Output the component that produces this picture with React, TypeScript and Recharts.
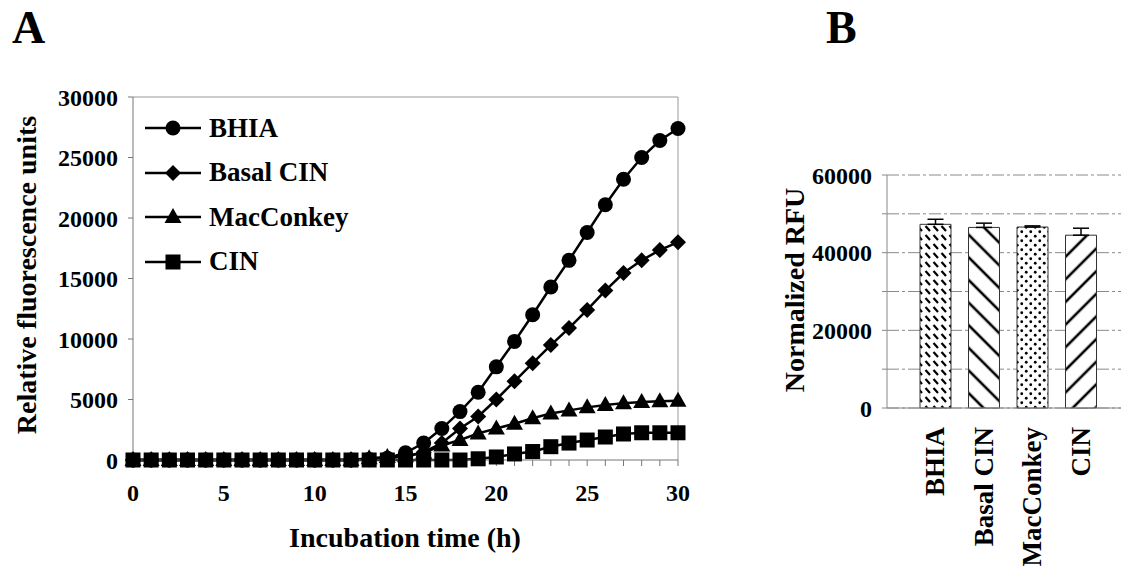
import React from "react";
import {
  Bar,
  BarChart,
  CartesianGrid,
  Cell,
  ErrorBar,
  Legend,
  Line,
  LineChart,
  ReferenceLine,
  XAxis,
  YAxis,
} from "recharts";

// Panel A: incubation time course
const hours = [0, 1, 2, 3, 4, 5, 6, 7, 8, 9, 10, 11, 12, 13, 14, 15, 16, 17, 18, 19, 20, 21, 22, 23, 24, 25, 26, 27, 28, 29, 30];
const bhia = [0, 0, 0, 0, 0, 0, 0, 0, 0, 0, 0, 0, 0, 50, 150, 600, 1400, 2600, 4000, 5600, 7700, 9800, 12000, 14300, 16500, 18800, 21100, 23200, 25000, 26400, 27400];
const basalCin = [0, 0, 0, 0, 0, 0, 0, 0, 0, 0, 0, 0, 0, 50, 150, 300, 650, 1400, 2600, 3600, 5000, 6500, 8000, 9500, 10900, 12400, 14000, 15450, 16500, 17350, 18000];
const macConkey = [0, 0, 0, 0, 0, 0, 0, 0, 0, 0, 0, 0, 0, 150, 250, 300, 600, 1200, 1650, 2200, 2600, 3000, 3450, 3850, 4100, 4350, 4550, 4700, 4800, 4850, 4900];
const cin = [0, 0, 0, 0, 0, 0, 0, 0, 0, 0, 0, 0, 0, 0, 0, 0, 0, 0, 0, 100, 250, 500, 700, 1100, 1400, 1650, 1900, 2150, 2250, 2250, 2250];
const yTicksA = [0, 5000, 10000, 15000, 20000, 25000, 30000];

// Panel B: normalized RFU per medium
const media = ["BHIA", "Basal CIN", "MacConkey", "CIN"];
const rfu = [47300, 46500, 46600, 44500];
const rfuErr = [1300, 1100, 300, 1800];
const yTicksB = [0, 10000, 20000, 30000, 40000, 50000, 60000];

const FONT = '"Liberation Serif", "Times New Roman", serif';

const series = [
  { key: "bhia", name: "BHIA", shape: "circle" },
  { key: "basal", name: "Basal CIN", shape: "diamond" },
  { key: "mac", name: "MacConkey", shape: "triangle" },
  { key: "cin", name: "CIN", shape: "square" },
];

const lineData = hours.map((h, i) => ({
  h,
  bhia: bhia[i],
  basal: basalCin[i],
  mac: macConkey[i],
  cin: cin[i],
}));

const barData = media.map((m, i) => ({ name: m, rfu: rfu[i], err: [0, rfuErr[i]] }));
const patterns = ["url(#pBhia)", "url(#pBasal)", "url(#pDots)", "url(#pCin)"];

function Marker({ cx, cy, shape }: { cx: number; cy: number; shape: string }) {
  if (cx == null || cy == null) return null;
  if (shape === "circle") return <circle cx={cx} cy={cy} r={7.5} fill="#000" />;
  if (shape === "diamond")
    return <polygon points={`${cx},${cy - 8} ${cx + 8},${cy} ${cx},${cy + 8} ${cx - 8},${cy}`} fill="#000" />;
  if (shape === "triangle")
    return <polygon points={`${cx},${cy - 9} ${cx + 8.5},${cy + 6} ${cx - 8.5},${cy + 6}`} fill="#000" />;
  return <rect x={cx - 7.5} y={cy - 7.5} width={15} height={15} fill="#000" />;
}

const tickStyle = { fill: "#000", fontSize: 24, fontWeight: 700, fontFamily: FONT };

function LegendBox() {
  return (
    <div style={{ fontFamily: FONT, fontWeight: 700, fontSize: 27, color: "#000" }}>
      {series.map((s) => (
        <div key={s.key} style={{ height: 44.5, display: "flex", alignItems: "center" }}>
          <svg width={56} height={20} style={{ marginRight: 8 }}>
            <line x1={0} y1={10} x2={56} y2={10} stroke="#000" strokeWidth={2.5} />
            <Marker cx={28} cy={10} shape={s.shape} />
          </svg>
          <span>{s.name}</span>
        </div>
      ))}
    </div>
  );
}

function CategoryTick({ x, y, payload }: any) {
  return (
    <text
      x={x}
      y={y}
      transform={`rotate(-90 ${x} ${y})`}
      textAnchor="end"
      dominantBaseline="central"
      fill="#000"
      fontSize={27}
      fontWeight={700}
      fontFamily={FONT}
    >
      {payload.value}
    </text>
  );
}

const titleStyle: React.CSSProperties = {
  position: "absolute",
  fontFamily: FONT,
  fontWeight: 700,
  fontSize: 28,
  whiteSpace: "nowrap",
  color: "#000",
  lineHeight: 1,
};

export default function App() {
  return (
    <div style={{ position: "absolute", left: 0, top: 0, width: 1121, height: 567, background: "#fff" }}>
      <div style={{ ...titleStyle, left: 12, top: 5, fontSize: 46 }}>A</div>
      <div style={{ ...titleStyle, left: 826, top: 5, fontSize: 46 }}>B</div>

      <div style={{ position: "absolute", left: 0, top: 0 }}>
        <LineChart width={700} height={567} data={lineData} margin={{ top: 97, right: 22, bottom: 47, left: 0 }}>
          <ReferenceLine y={30000} stroke="#999" strokeWidth={1} />
          <ReferenceLine x={30} stroke="#999" strokeWidth={1} />
          <XAxis
            dataKey="h"
            type="number"
            domain={[0, 30]}
            ticks={hours}
            interval={0}
            tickFormatter={(v) => (v % 5 === 0 ? String(v) : "")}
            tick={tickStyle}
            tickSize={6}
            tickMargin={18}
            height={60}
            stroke="#777"
          />
          <YAxis
            domain={[0, 30000]}
            ticks={yTicksA}
            tick={tickStyle}
            tickSize={5}
            tickMargin={10}
            width={133}
            stroke="#777"
          />
          <Legend
            layout="vertical"
            align="center"
            verticalAlign="middle"
            wrapperStyle={{ top: 106, left: 145, width: 260 }}
            content={() => <LegendBox />}
          />
          {series.map((s) => (
            <Line
              key={s.key}
              dataKey={s.key}
              name={s.name}
              stroke="#000"
              strokeWidth={2.5}
              isAnimationActive={false}
              activeDot={false}
              dot={(p: any) => <Marker key={`${s.key}-${p.index}`} cx={p.cx} cy={p.cy} shape={s.shape} />}
            />
          ))}
        </LineChart>
      </div>
      <div style={{ ...titleStyle, left: 27, top: 275, transform: "translate(-50%, -50%) rotate(-90deg)" }}>
        Relative fluorescence units
      </div>
      <div style={{ ...titleStyle, left: 405, top: 538, transform: "translate(-50%, -50%)" }}>
        Incubation time (h)
      </div>

      <div style={{ position: "absolute", left: 700, top: 0 }}>
        <BarChart width={421} height={567} data={barData} margin={{ top: 175, right: 0, bottom: 9, left: 0 }}>
          <defs>
            <pattern id="pBhia" width={8} height={9} patternUnits="userSpaceOnUse">
              <rect width={8} height={9} fill="#fff" />
              <line x1={1.5} y1={1} x2={6} y2={6} stroke="#000" strokeWidth={2.2} />
            </pattern>
            <pattern id="pBasal" width={16} height={16} patternUnits="userSpaceOnUse" patternTransform="rotate(-45)">
              <rect width={16} height={16} fill="#fff" />
              <line x1={8} y1={0} x2={8} y2={16} stroke="#000" strokeWidth={2.6} />
            </pattern>
            <pattern id="pCin" width={16} height={16} patternUnits="userSpaceOnUse" patternTransform="rotate(45)">
              <rect width={16} height={16} fill="#fff" />
              <line x1={8} y1={0} x2={8} y2={16} stroke="#000" strokeWidth={2.6} />
            </pattern>
            <pattern id="pDots" width={9} height={9} patternUnits="userSpaceOnUse">
              <rect width={9} height={9} fill="#fff" />
              <circle cx={2.25} cy={2.25} r={1.4} fill="#000" />
              <circle cx={6.75} cy={6.75} r={1.4} fill="#000" />
            </pattern>
          </defs>
          <CartesianGrid horizontal vertical={false} stroke="#8a8a8a" strokeDasharray="12 3 3 3" />
          <XAxis
            dataKey="name"
            interval={0}
            tick={<CategoryTick />}
            tickLine={false}
            tickSize={0}
            tickMargin={19}
            height={150}
            padding={{ left: 24, right: 16 }}
            stroke="#888"
          />
          <YAxis
            domain={[0, 60000]}
            ticks={yTicksB}
            interval={0}
            tickFormatter={(v) => (v % 20000 === 0 ? String(v) : "")}
            tick={tickStyle}
            tickSize={5}
            tickMargin={10}
            width={187}
            stroke="#888"
          />
          <Bar dataKey="rfu" barSize={31} stroke="#333" strokeWidth={1} isAnimationActive={false}>
            {barData.map((d, i) => (
              <Cell key={d.name} fill={patterns[i]} />
            ))}
            <ErrorBar dataKey="err" width={8} stroke="#000" strokeWidth={1.5} direction="y" />
          </Bar>
        </BarChart>
      </div>
      <div style={{ ...titleStyle, left: 795, top: 290, transform: "translate(-50%, -50%) rotate(-90deg)" }}>
        Normalized RFU
      </div>
    </div>
  );
}
